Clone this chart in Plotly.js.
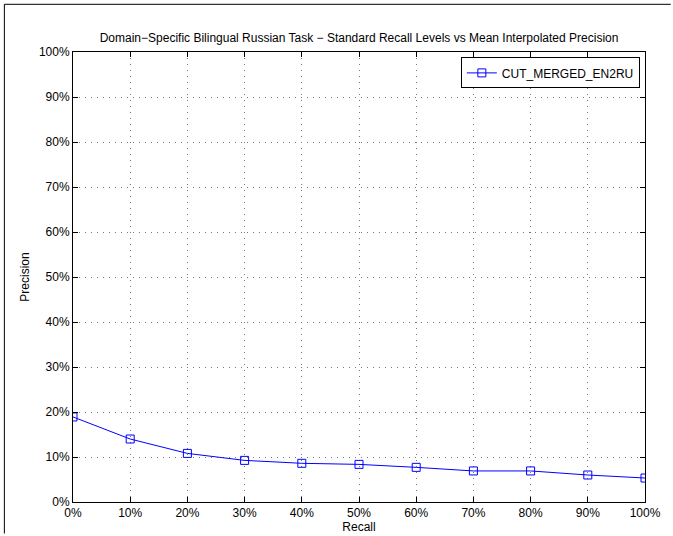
<!DOCTYPE html>
<html><head><meta charset="utf-8">
<script src="https://cdn.plot.ly/plotly-3.0.1.min.js"></script>
<style>html,body{margin:0;padding:0;background:#fff;overflow:hidden}#plot{width:673px;height:536px}</style>
</head><body><div id="plot"></div>
<script>
const recallLevels = [0, 10, 20, 30, 40, 50, 60, 70, 80, 90, 100];
const precision = [18.9, 14.0, 10.8, 9.25, 8.6, 8.36, 7.7, 6.9, 6.9, 6.0, 5.33];
const seriesName = 'CUT_MERGED_EN2RU';
const tickVals = [0, 10, 20, 30, 40, 50, 60, 70, 80, 90, 100];
const tickText = tickVals.map(v => v + '%');

const font = {family: 'Liberation Sans, Arial, sans-serif', size: 12, color: '#000'};
const axisBase = {
  showline: true, mirror: 'ticks', linecolor: '#000', linewidth: 1,
  ticks: 'inside', ticklen: 5, tickcolor: '#000',
  showgrid: true, gridcolor: '#777', griddash: '1px,5px', gridwidth: 1,
  zeroline: false, tickmode: 'array', tickvals: tickVals, ticktext: tickText,
  range: [0, 100], fixedrange: true
};

Plotly.newPlot('plot', [{
  x: recallLevels, y: precision, type: 'scatter', mode: 'lines+markers',
  name: seriesName,
  line: {color: '#0000ff', width: 1},
  marker: {symbol: 'square-open', size: 8, color: '#0000ff', line: {width: 1}}
}], {
  width: 673, height: 536,
  margin: {l: 73, r: 28, t: 52, b: 34},
  paper_bgcolor: '#fff', plot_bgcolor: '#fff',
  font: font,
  title: {text: 'Domain\u2212Specific Bilingual Russian Task \u2212 Standard Recall Levels vs Mean Interpolated Precision',
          font: {family: font.family, size: 12, color: '#000'}, x: 0.5335, xanchor: 'center', y: 0.929, yanchor: 'middle'},
  xaxis: Object.assign({}, axisBase, {title: {text: 'Recall', standoff: 2, font: font}}),
  yaxis: Object.assign({}, axisBase, {title: {text: 'Precision', standoff: 6, font: font}}),
  showlegend: true,
  legend: {x: 0.991, xanchor: 'right', y: 0.988, yanchor: 'top',
           bordercolor: '#000', borderwidth: 1, bgcolor: '#fff', font: font},
  shapes: [{type: 'path', xref: 'paper', yref: 'paper',
            path: 'M -0.12 -0.07 L -0.12 1.106 L 1.045 1.106',
            line: {color: '#000', width: 1}, layer: 'below'}]
}, {displayModeBar: false, staticPlot: true});
</script></body></html>
